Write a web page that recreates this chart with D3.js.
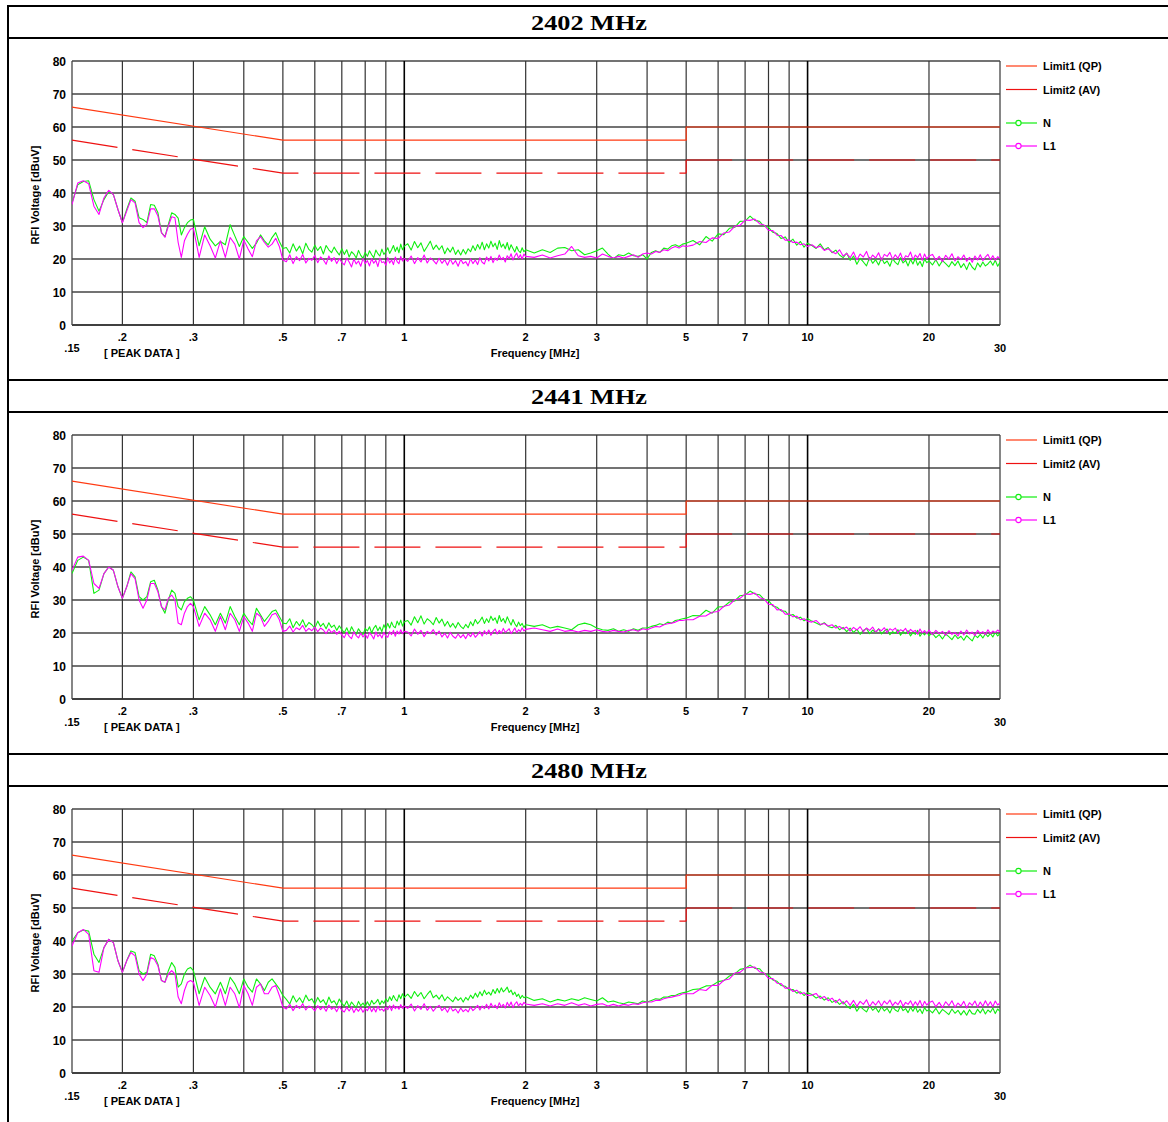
<!DOCTYPE html>
<html><head><meta charset="utf-8">
<script src="https://cdn.jsdelivr.net/npm/d3@7"></script>
<style>body{margin:0;background:#fff}svg{display:block}</style>
</head><body>
<svg id="c" width="1168" height="1122"></svg>
<script>
// ---------------- DATA ----------------
const panelTitles = ["2402 MHz", "2441 MHz", "2480 MHz"];

// sample frequencies (MHz) shared by every trace
const freqs = [
  0.150,0.155,0.160,0.165,0.170,0.175,0.180,0.185,0.190,0.195,0.200,0.205,0.210,0.215,0.220,0.225,0.230,0.235,0.240,0.245,0.250,0.255,0.260,0.265,0.270,0.275,0.280,0.285,0.290,0.295,0.300,
  0.31,0.32,0.33,0.34,0.35,0.36,0.37,0.38,0.39,0.40,0.41,0.42,0.43,0.44,0.45,0.46,0.47,0.48,0.49,0.50,
  0.51,0.52,0.53,0.54,0.55,0.56,0.57,0.58,0.59,0.60,0.61,0.62,0.63,0.64,0.65,0.66,0.67,0.68,0.69,0.70,
  0.71,0.72,0.73,0.74,0.75,0.76,0.77,0.78,0.79,0.80,0.81,0.82,0.83,0.84,0.85,0.86,0.87,0.88,0.89,0.90,
  0.91,0.92,0.93,0.94,0.95,0.96,0.97,0.98,0.99,1.00,
  1.02,1.04,1.06,1.08,1.10,1.12,1.14,1.16,1.18,1.20,1.22,1.24,1.26,1.28,1.30,1.32,1.34,1.36,1.38,1.40,
  1.42,1.44,1.46,1.48,1.50,1.52,1.54,1.56,1.58,1.60,1.62,1.64,1.66,1.68,1.70,1.72,1.74,1.76,1.78,1.80,
  1.82,1.84,1.86,1.88,1.90,1.92,1.94,1.96,1.98,2.00,
  2.1,2.2,2.3,2.4,2.5,2.6,2.7,2.8,2.9,3.0,3.1,3.2,3.3,3.4,3.5,3.6,3.7,3.8,3.9,4.0,4.1,4.2,4.3,4.4,4.5,4.6,4.7,4.8,4.9,5.0,
  5.2,5.4,5.6,5.8,6.0,6.2,6.4,6.6,6.8,7.0,7.2,7.4,7.6,7.8,8.0,8.2,8.4,8.6,8.8,9.0,9.2,9.4,9.6,9.8,10.0,
  10.25,10.5,10.75,11,11.25,11.5,11.75,12,12.25,12.5,12.75,13,13.25,13.5,13.75,14,14.25,14.5,14.75,15,
  15.25,15.5,15.75,16,16.25,16.5,16.75,17,17.25,17.5,17.75,18,18.25,18.5,18.75,19,19.25,19.5,19.75,20,
  20.4,20.8,21.2,21.6,22.0,22.4,22.8,23.2,23.6,24.0,24.4,24.8,25.2,25.6,26.0,26.4,26.8,27.2,27.6,28.0,28.4,28.8,29.2,29.6,30.0
];

// 2402 MHz
const n2402 = [
  37,42.5,43.5,43.7,38,34.5,38,40.5,39.5,35,31,35,38.5,37.5,32.5,32,31,36.5,36.3,34,28,26.8,30.5,34,33.5,32.4,27.3,29.5,31,31.8,32,
  24,29.8,26,24,25.3,24.3,30.4,27,23.8,26.8,25,23.2,24.8,27.3,25.5,24.3,26.5,28,25.3,23.2,
  23.5,21.8,24.6,22.4,23.9,21.6,24.8,22.9,22.1,24.2, 22.6,23.8,21.5,24.1,22.8,21.9,23.6,22.3,21.2,23.1,
  21.4,22.8,20.6,22.2,21.5,20.3,22.6,21.1,20.2,22.0, 20.8,22.5,21.3,20.4,22.7,21.6,20.9,23.0,21.4,22.2,
  23.4,21.7,22.8,24.1,22.3,23.6,21.9,24.5,22.8,23.9,
  24.6,22.7,25.3,23.4,24.9,22.3,23.8,25.4,22.9,24.2, 22.8,24.0,21.6,23.3,22.1,23.6,21.4,22.7,21.2,22.9,
  21.5,23.1,22.2,24.0,22.6,24.4,23.0,25.1,22.8,24.6, 23.3,25.4,23.7,24.8,22.9,25.6,23.6,24.5,23.1,25.0,
  22.7,24.3,23.2,22.1,23.8,22.5,21.9,23.4,22.2,22.8,
  21.8,22.8,22,23.3,23.5,22.5,22.8,21.3,21.8,22.5,23.3,21.5,20,21.3,21,21.8,21,20.8,21.3,20,22,22.5,22,23.3,23,24,24.3,23.8,24.5,24.8,
  25.6,24.3,26.8,25.4,27.6,27.4,29.3,29.6,31.4,31.5,33.0,31.7,31.4,29.9,29.6,28.1,27.7,26.2,26.7,25.0,26.0,24.2,25.3,23.6,24.8,
  24.1,23.2,24.6,22.8,23.5,21.9,22.7,21.2,20.4,21.8, 19.6,20.9,18.4,20.2,19.1,17.9,20.5,18.7,19.8,18.2,
  20.3,18.6,19.4,17.8,20.1,19.0,18.3,20.4,18.8,19.6, 17.9,19.9,18.5,20.2,18.1,19.3,17.7,20.0,18.9,19.4,
  18.2,19.8,17.9,19.5,18.6,17.6,19.2,18.0,19.4,17.4, 18.6,16.8,18.9,17.5,16.7,18.8,17.6,19.1,17.9,18.5, 19.4,18.1,19.6,17.8,19.0
];
const l2402 = [
  36.5,43,43.7,42.8,36,33.5,38.5,40.8,39.5,35,31,34.5,38,37,31,29.5,30.5,35.2,35.2,33,28,26.6,30,32.8,32.5,25,20.5,25.5,27.5,29,29.3,
  20.5,27.3,24,20.3,25.5,20.5,26.5,24.5,20,25.8,23,20.7,25.5,26.8,25,23.6,24.5,26.3,23.8,19.7,
  19.2,21.3,18.6,20.7,19.5,21.4,18.8,20.2,19.6,21.1, 18.9,20.6,19.8,18.4,20.9,19.3,20.4,18.6,20.1,19.0,
  18.2,20.3,19.1,17.6,20.0,18.5,19.4,17.8,20.2,18.6, 19.5,17.9,20.1,18.7,19.6,17.7,20.3,18.9,19.2,18.1,
  20.4,18.8,19.7,18.3,20.6,19.2,18.6,20.8,19.4,20.2,
  19.3,20.9,18.6,20.4,19.1,21.2,18.8,20.3,19.6,18.5, 20.2,18.7,19.8,18.1,20.0,18.4,19.5,17.8,19.9,18.6,
  19.2,17.9,20.1,18.6,19.7,18.3,20.4,19.0,18.5,20.6, 19.4,20.8,18.9,20.3,19.6,21.2,19.8,20.5,19.1,21.0,
  20.1,21.6,19.7,20.9,21.8,20.2,21.3,20.0,21.5,20.8,
  20.5,21.2,20.3,21,21.5,23.8,21,20.5,20.8,20.3,21.5,20.8,20.3,20.8,20.3,20.8,21.3,20.5,21.5,21.8,21.5,22.3,22,22.8,22.5,23.3,23.8,23.3,24,23.8,
  24.2,25.3,25.0,26.4,26.2,27.9,28.2,29.9,30.2,31.8,31.7,32.1,30.7,30.3,28.7,28.6,27.2,27.1,25.7,25.8,25.0,25.1,24.3,24.6,23.8,
  24.3,23.4,23.9,22.6,23.1,22.2,21.6,22.8,20.9,21.7, 20.4,22.1,19.8,21.5,20.6,22.3,19.7,21.2,20.3,21.9,
  19.6,21.4,20.8,22.0,19.9,21.3,20.2,21.8,19.5,21.0, 20.6,22.1,19.8,21.2,20.4,21.7,19.6,21.5,20.1,20.9,
  21.4,19.6,20.8,19.2,21.1,20.0,21.6,19.4,20.7,19.8, 21.2,19.3,20.5,19.0,20.9,19.7,21.3,19.5,20.6,21.4, 19.8,21.0,19.6,20.7,20.2
];

// 2441 MHz
const n2441 = [
  38,42,43,42,32,33,38,40,39,34,30.5,34,38.5,37,31,30,31,35.5,36,33,28,26,30,33,32,28,27,29.5,30.5,31,30,
  24,28,25.5,22.5,26,23,28,25,22.5,26,24,22.5,27.5,25.5,23.5,25,26.5,27,25,23,
  22.8,24.3,21.6,23.5,22.2,24.0,21.8,23.2,22.5,21.4, 23.6,22.0,22.9,21.3,23.1,21.7,22.4,20.8,22.2,21.0,
  20.1,21.6,19.8,21.9,20.5,19.6,21.3,20.2,19.5,21.4, 20.6,21.9,20.0,21.5,22.3,20.7,21.8,20.4,22.5,21.2,
  22.9,21.5,23.3,22.0,21.6,23.6,22.4,23.9,22.1,23.4,
  23.8,22.4,24.9,23.1,25.2,22.7,24.3,23.6,22.5,24.7, 23.0,24.2,22.1,23.5,21.8,22.9,21.5,23.2,22.0,21.3,
  22.6,21.6,23.4,22.2,24.1,22.8,23.7,24.8,22.9,24.3, 23.2,25.1,23.8,24.6,22.9,25.3,23.5,24.4,23.0,24.9,
  23.6,22.4,24.1,22.8,21.9,23.3,22.2,22.9,21.7,22.5,
  22,22.5,21.5,22,21.5,21,22.5,23,22.5,21.5,21,20.8,21.3,20.5,21,20.5,21.3,20.8,21.5,21.5,22,22.3,22.8,22.5,23.3,23,23.8,24,24.3,24.5,
  25.3,25.2,26.9,26.0,27.9,28.0,29.4,29.7,31.3,31.5,32.7,31.8,31.6,30.2,29.8,28.2,27.8,26.7,26.6,25.2,25.6,24.5,24.8,23.7,24.3,
  23.6,23.0,22.4,23.1,22.0,21.6,22.3,21.0,21.7,20.4, 21.5,20.2,21.1,19.6,20.8,21.4,19.8,20.9,20.1,21.3,
  19.7,20.6,21.2,19.5,20.4,19.9,21.0,19.3,20.5,19.8, 20.7,19.1,20.2,19.6,20.8,19.0,20.1,19.4,20.3,19.2,
  19.9,18.6,19.5,18.2,19.7,18.9,18.0,19.4,18.3,19.0, 17.8,19.2,18.4,17.6,19.3,18.6,19.6,18.5,19.8,18.9, 19.9,18.8,20.2,19.1,19.8
];
const l2441 = [
  39,43,43.3,42,35,33.5,38,40,39,34,30.5,34,38,36.5,30,27.5,30,35,35,32.5,28,27,30.5,31.5,30,23,22.5,26,28,29,28,
  22,26,24,20.5,25,21,26,24,20.5,25,23,20.5,26,25,22,23.5,25.5,26,24,20.5,
  20.8,22.1,20.3,21.6,21.0,22.3,20.5,21.4,20.7,21.8, 20.4,21.5,20.9,19.8,21.2,20.1,20.8,19.6,20.5,19.4,
  18.6,20.2,19.0,18.3,20.4,19.2,18.5,20.0,18.8,19.7, 18.4,20.1,19.3,18.2,20.3,18.9,19.6,18.5,20.2,19.1,
  18.7,20.4,19.5,20.8,19.0,20.6,19.7,21.0,19.8,20.5,
  20.3,19.1,21.2,19.6,20.8,18.9,20.5,19.8,21.0,19.4, 20.6,18.8,19.9,18.5,20.2,19.0,18.4,19.7,18.6,19.5,
  18.3,19.8,18.9,20.1,18.7,19.5,20.4,19.1,20.7,19.6, 20.9,19.3,20.5,21.2,19.7,20.8,19.9,21.4,20.2,20.7,
  21.3,19.8,20.6,21.5,20.1,21.0,20.4,21.6,20.6,21.1,
  21.5,21,20.5,21.2,20.5,20.8,20.3,20.8,20.5,21,20.5,20.3,20.8,20.5,20.3,20.8,21,20.5,21.3,21,21.5,22,21.8,22.5,22.8,23,23.3,23.8,23.8,24,
  24.0,25.1,25.2,26.3,26.5,28.1,28.5,30.1,30.5,31.8,31.7,32.1,30.7,30.3,28.7,28.6,27.0,27.1,25.7,25.8,24.9,25.1,24.0,24.3,23.6,
  23.3,23.8,22.6,22.9,22.1,22.5,21.5,22.0,21.2,21.8, 20.6,21.7,20.9,21.9,20.4,21.5,20.8,21.8,20.3,21.2,
  20.7,21.6,20.2,21.3,20.8,21.5,20.1,21.0,20.6,21.4, 19.9,21.1,20.4,20.8,19.6,21.2,20.0,20.7,19.8,20.9,
  19.5,20.8,19.8,20.5,19.3,20.7,19.6,20.2,19.1,20.6, 19.4,20.9,19.7,20.3,19.2,20.8,19.9,20.4,19.5,21.0, 19.8,20.6,20.1,20.9,20.3
];

// 2480 MHz
const n2480 = [
  40,42.5,43.3,43,36,33.5,38,40.5,39.5,34,30.5,34,37,36.5,31,30,30.5,36,35.5,33,28,27.5,31,33.5,32,26,27,30,31.5,32,31,
  24,29,26,24,27.5,24,29,27,24,28.5,26,24.5,28.5,27,25,27.5,28.5,27,25.5,23.5,
  22.3,20.9,23.4,21.5,22.8,21.2,23.6,21.9,22.5,20.8, 22.9,21.4,22.2,20.6,23.0,21.3,21.9,20.5,22.4,21.1,
  20.3,21.8,20.0,21.5,20.6,19.8,21.7,20.4,21.2,20.1, 21.6,20.3,22.0,20.9,21.4,22.3,20.7,21.9,21.1,22.5,
  21.6,23.1,22.0,23.5,22.4,21.8,23.7,22.5,24.0,22.9,
  23.9,22.6,24.7,23.2,24.4,22.5,23.8,24.9,22.8,23.6, 22.4,23.7,21.9,23.1,22.3,21.6,23.0,22.0,22.8,21.5,
  22.9,22.1,23.6,22.6,24.2,23.0,24.6,23.4,25.1,23.8, 24.5,23.6,25.3,24.1,25.6,24.3,25.8,24.6,25.2,26.0,
  24.4,25.1,23.7,24.5,23.2,23.9,22.6,23.5,22.8,23.1,
  22,22.5,21.5,22.3,21.8,22.5,22,22.8,22.3,21.8,22.8,21.5,21.8,21.3,21,21.5,21.3,21,21.8,21.5,22,22.5,22.3,23,23,23.5,23.5,24,24.3,24.5,
  25.3,25.5,26.4,26.5,27.7,28.0,29.4,30.0,31.4,31.7,32.7,31.7,31.6,30.0,29.6,28.2,27.8,26.5,26.3,25.2,25.3,24.2,24.6,23.5,24.3,
  23.8,22.7,23.3,22.1,22.8,21.4,22.0,20.8,21.6,20.3, 19.5,20.8,18.7,20.2,19.3,18.5,20.4,19.0,19.8,18.4,
  20.1,18.8,19.6,18.2,20.0,19.1,18.6,20.3,18.9,19.5, 18.3,19.9,18.7,20.1,18.4,19.4,18.0,19.8,18.8,19.2,
  18.2,19.6,17.9,19.3,18.5,17.7,19.4,18.1,19.0,17.6, 18.9,17.5,19.2,18.0,17.8,19.3,18.2,19.5,17.9,19.1, 18.4,19.7,18.0,19.4,18.6
];
const l2480 = [
  38.5,42.5,43.5,42,31,30.5,38,40.5,39.5,34,30.5,34,36.5,35.5,30,28,30,35,34.5,32.5,28,27.5,30,31,30,23,21,25,27.5,28,27.5,
  20.5,26,23.5,20,25.5,20.5,26,24,19.8,26.5,24,20.5,26,27,24,24,26,26.5,23.5,20,
  19.4,20.8,18.9,20.5,19.6,21.0,19.1,20.3,19.8,18.8, 20.4,19.2,20.1,18.7,20.6,19.3,19.9,18.6,20.2,19.0,
  18.5,19.9,18.8,20.0,18.3,19.6,18.7,19.8,18.4,19.5, 18.9,20.1,18.6,19.7,18.5,20.2,19.0,19.4,18.7,20.0,
  19.2,20.4,18.9,20.6,19.5,20.1,19.3,20.7,19.6,20.3,
  19.6,20.9,18.8,20.4,19.3,21.0,19.0,20.2,18.7,19.9, 20.5,18.9,19.8,18.4,20.1,18.8,19.4,18.2,19.7,18.6,
  19.3,18.5,20.0,18.9,19.6,20.5,19.1,20.3,19.5,20.8, 19.4,21.1,19.9,20.6,19.5,21.3,20.0,20.8,19.7,21.4,
  20.2,21.5,19.8,20.9,21.6,20.3,21.1,20.5,21.4,20.9,
  20.5,21,20.3,21,20.5,21.3,20.5,21,20.3,20.8,21,20.3,20.8,20.3,20.8,20.5,21,20.8,21.3,21.5,21.5,22,22,22.5,22.8,23,23.3,23.5,24,24,
  24.0,25.3,25.0,26.6,26.5,28.1,28.5,30.3,30.5,31.8,32.0,32.1,30.7,30.3,28.7,28.6,27.2,27.1,25.7,25.8,24.7,25.1,24.0,24.3,23.5,
  23.6,24.1,22.6,23.2,21.9,22.7,21.3,22.4,20.9,21.9, 20.5,22.0,20.2,21.7,20.8,22.2,20.1,21.6,20.6,21.9,
  20.3,21.8,20.9,22.1,20.4,21.5,20.7,22.0,20.2,21.4, 20.8,21.9,20.3,21.6,20.5,22.0,20.1,21.7,20.6,21.3,
  21.8,20.1,21.4,19.8,21.6,20.4,21.9,19.9,21.2,20.3, 21.7,19.7,21.3,20.5,21.8,20.0,21.5,20.2,21.9,20.4, 21.6,20.1,21.8,20.6,21.2
];

const panelN = [n2402, n2441, n2480];
const panelL1 = [l2402, l2441, l2480];

// limit lines (frequency MHz, level dBuV)
const qpFreq = [0.15, 0.5, 5, 5, 30];
const qpLevel = [66, 56, 56, 60, 60];
const avFreq = [0.15, 0.5, 5, 5, 30];
const avLevel = [56, 46, 46, 50, 50];

// axes
const yTicks = [0, 10, 20, 30, 40, 50, 60, 70, 80];
const xGrid = [0.2,0.3,0.4,0.5,0.6,0.7,0.8,0.9,1,2,3,4,5,6,7,8,9,10,20];
const xTickValues = [0.2,0.3,0.5,0.7,1,2,3,5,7,10,20];
const xTickText = [".2",".3",".5",".7","1","2","3","5","7","10","20"];
const xEndValues = [0.15, 30];
const xEndText = [".15", "30"];
const legendNames = ["Limit1 (QP)", "Limit2 (AV)", "N", "L1"];

// ---------------- CHECK ----------------
[n2402,l2402,n2441,l2441,n2480,l2480].forEach((a,i)=>{
  if (a.length !== freqs.length) throw new Error("length mismatch trace " + i + ": " + a.length + " vs " + freqs.length);
});

// ---------------- DRAW ----------------
const svg = d3.select("#c");
const C = { qp: "#ff3a12", av: "#ee1111", n: "#10ee10", l1: "#ff00ff" };
const FONT = "'Liberation Sans', Arial, Helvetica, sans-serif";
const panelStep = 374;

svg.append("rect").attr("width", 1168).attr("height", 1122).attr("fill", "#fff");

// outer frame
svg.append("line").attr("x1", 8).attr("x2", 8).attr("y1", 5).attr("y2", 1122)
  .attr("stroke", "#000").attr("stroke-width", 2);

const x = d3.scaleLog().domain([0.15, 30]).range([72, 1000]);

panelTitles.forEach((title, p) => {
  const top = 6 + p * panelStep;
  const g = svg.append("g");

  // frame lines
  [top, top + 32].forEach(yy => {
    g.append("line").attr("x1", 7).attr("x2", 1168).attr("y1", yy).attr("y2", yy)
      .attr("stroke", "#000").attr("stroke-width", 2);
  });
  g.append("text").attr("x", 589).attr("y", top + 23.5)
    .attr("text-anchor", "middle")
    .attr("font-family", "'Liberation Serif', 'Times New Roman', serif")
    .attr("font-weight", "bold").attr("font-size", 22)
    .attr("textLength", 116).attr("lengthAdjust", "spacingAndGlyphs")
    .text(title);

  const yTop = top + 55, yBot = top + 319;
  const y = d3.scaleLinear().domain([0, 80]).range([yBot, yTop]);

  // grid
  const grid = g.append("g");
  grid.selectAll(".hg").data(yTicks).join("line")
    .attr("x1", 72).attr("x2", 1000)
    .attr("y1", d => y(d)).attr("y2", d => y(d))
    .attr("stroke", d => d === 0 ? "#000" : "#444").attr("stroke-width", d => d === 0 ? 1.6 : 1.3);
  grid.selectAll(".vg").data(xGrid).join("line")
    .attr("x1", d => x(d)).attr("x2", d => x(d))
    .attr("y1", yTop).attr("y2", yBot)
    .attr("stroke", d => (d === 1 || d === 10) ? "#000" : "#333")
    .attr("stroke-width", d => (d === 1 || d === 10) ? 1.6 : 1.2);
  [0.15, 30].forEach(v => {
    grid.append("line").attr("x1", x(v)).attr("x2", x(v)).attr("y1", yTop).attr("y2", yBot)
      .attr("stroke", "#444").attr("stroke-width", 1.3);
  });

  // y tick labels
  const yAxis = g.append("g").attr("transform", "translate(72,0)")
    .call(d3.axisLeft(y).tickValues(yTicks).tickSize(0).tickPadding(6).tickFormat(d3.format("d")));
  yAxis.select(".domain").remove();
  yAxis.selectAll("text").attr("font-family", FONT).attr("font-weight", "bold")
    .attr("font-size", 12).attr("fill", "#000").attr("dy", "0.36em");

  // x tick labels
  g.selectAll(".xt").data(xTickValues).join("text")
    .attr("x", d => x(d)).attr("y", yBot + 15.5).attr("text-anchor", "middle")
    .attr("font-family", FONT).attr("font-weight", "bold").attr("font-size", 11)
    .text((d, i) => xTickText[i]);
  g.selectAll(".xe").data(xEndValues).join("text")
    .attr("x", d => x(d)).attr("y", yBot + 27).attr("text-anchor", "middle")
    .attr("font-family", FONT).attr("font-weight", "bold").attr("font-size", 11)
    .text((d, i) => xEndText[i]);
  g.append("text").attr("x", 104).attr("y", yBot + 32)
    .attr("font-family", FONT).attr("font-weight", "bold").attr("font-size", 11)
    .text("[ PEAK DATA ]");
  g.append("text").attr("x", 535).attr("y", yBot + 32).attr("text-anchor", "middle")
    .attr("font-family", FONT).attr("font-weight", "bold").attr("font-size", 11)
    .text("Frequency [MHz]");
  g.append("text").attr("transform", `translate(39,${top + 189}) rotate(-90)`)
    .attr("text-anchor", "middle")
    .attr("font-family", FONT).attr("font-weight", "bold").attr("font-size", 11)
    .text("RFI Voltage [dBuV]");

  // clip
  const clipId = "clip" + p;
  svg.append("defs").append("clipPath").attr("id", clipId)
    .append("rect").attr("x", 72).attr("y", yTop - 1).attr("width", 928).attr("height", yBot - yTop + 1);
  const plot = g.append("g").attr("clip-path", `url(#${clipId})`);

  const line = d3.line().x(d => x(d[0])).y(d => y(d[1]));

  // limits
  const qp = qpFreq.map((f, i) => [f, qpLevel[i]]);
  plot.append("path").attr("d", line(qp)).attr("fill", "none")
    .attr("stroke", C.qp).attr("stroke-width", 1.2);
  const av = avFreq.map((f, i) => [f, avLevel[i]]);
  plot.append("path").attr("d", line(av.slice(0, 3))).attr("fill", "none")
    .attr("stroke", C.av).attr("stroke-width", 1.2).attr("stroke-dasharray", "46,15");
  plot.append("path").attr("d", line(av.slice(2, 4))).attr("fill", "none")
    .attr("stroke", C.av).attr("stroke-width", 1.2);
  plot.append("path").attr("d", line(av.slice(3, 5))).attr("fill", "none")
    .attr("stroke", C.av).attr("stroke-width", 1.2).attr("stroke-dasharray", "46,15");

  // traces
  const nData = freqs.map((f, i) => [f, panelN[p][i]]);
  const lData = freqs.map((f, i) => [f, panelL1[p][i]]);
  plot.append("path").attr("d", line(nData)).attr("fill", "none")
    .attr("stroke", C.n).attr("stroke-width", 1.1).attr("stroke-linejoin", "round");
  plot.append("path").attr("d", line(lData)).attr("fill", "none")
    .attr("stroke", C.l1).attr("stroke-width", 1.1).attr("stroke-linejoin", "round");

  // legend
  const legY = [top + 60, top + 83.5, top + 117, top + 140];
  const legC = [C.qp, C.av, C.n, C.l1];
  legendNames.forEach((name, i) => {
    g.append("line").attr("x1", 1006).attr("x2", 1037).attr("y1", legY[i]).attr("y2", legY[i])
      .attr("stroke", legC[i]).attr("stroke-width", 1.2);
    if (i >= 2) {
      g.append("circle").attr("cx", 1018.5).attr("cy", legY[i]).attr("r", 2.6)
        .attr("fill", "#fff").attr("stroke", legC[i]).attr("stroke-width", 1.1);
    }
    g.append("text").attr("x", 1043).attr("y", legY[i] + 4)
      .attr("font-family", FONT).attr("font-weight", "bold").attr("font-size", 11)
      .text(name);
  });
});
</script>
</body></html>
